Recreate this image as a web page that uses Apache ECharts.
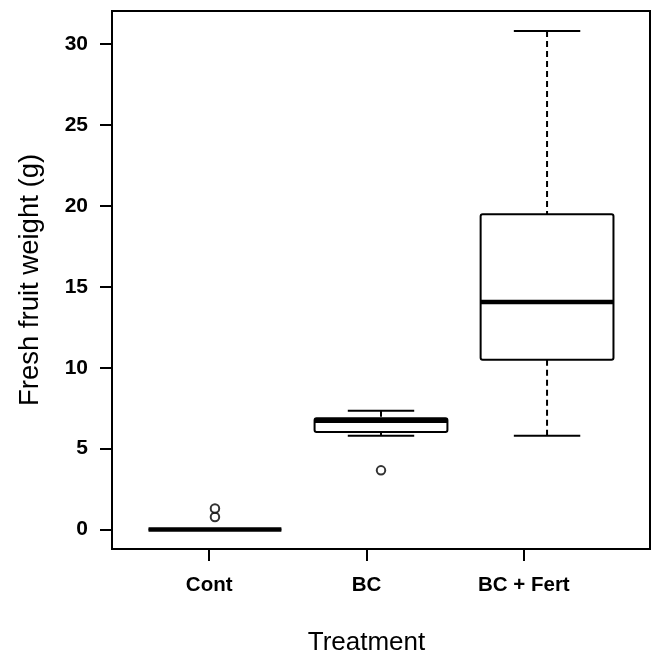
<!DOCTYPE html>
<html>
<head>
<meta charset="utf-8">
<script src="https://cdn.jsdelivr.net/npm/echarts@6/dist/echarts.min.js"></script>
<style>
  html, body { margin: 0; padding: 0; background: #fff; }
  #chart { width: 652px; height: 655px; }
</style>
</head>
<body>
<div id="chart"></div>
<script>
// ---- data ----
const categories = ['Cont', 'BC', 'BC + Fert'];
const whiskerLow = [0, 5.80, 5.80];
const q1 = [0, 6.03, 10.49];
const median = [0, 6.72, 14.06];
const q3 = [0, 6.88, 19.49];
const whiskerHigh = [0, 7.35, 30.82];
const outlierGroup = [0, 0, 1];
const outlierValue = [0.78, 1.30, 3.66];
const yTicks = [0, 5, 10, 15, 20, 25, 30];

const FONT = "'Liberation Sans', Arial, sans-serif";

const boxData = categories.map((c, i) => [i + 1, whiskerLow[i], q1[i], median[i], q3[i], whiskerHigh[i]]);
const outlierData = outlierGroup.map((g, i) => [g + 1, outlierValue[i]]);

function renderBox(params, api) {
  const x = api.value(0);
  const lo = api.value(1), b1 = api.value(2), md = api.value(3), b3 = api.value(4), hi = api.value(5);
  const w = api.size([0.8, 0])[0];
  const pLo = api.coord([x, lo]), pQ1 = api.coord([x, b1]), pMd = api.coord([x, md]);
  const pQ3 = api.coord([x, b3]), pHi = api.coord([x, hi]);
  const cx = pMd[0];
  const solid = { stroke: '#000', lineWidth: 2, fill: null };
  const dashed = { stroke: '#000', lineWidth: 2, lineDash: [6, 4], fill: null };
  return {
    type: 'group',
    children: [
      { type: 'line', shape: { x1: cx, y1: pHi[1], x2: cx, y2: pQ3[1] }, style: dashed },
      { type: 'line', shape: { x1: cx, y1: pLo[1], x2: cx, y2: pQ1[1] }, style: dashed },
      { type: 'line', shape: { x1: cx - w / 4, y1: pHi[1], x2: cx + w / 4, y2: pHi[1] }, style: solid },
      { type: 'line', shape: { x1: cx - w / 4, y1: pLo[1], x2: cx + w / 4, y2: pLo[1] }, style: solid },
      { type: 'rect', shape: { x: cx - w / 2, y: pQ3[1], width: w, height: pQ1[1] - pQ3[1], r: 2 },
        style: { stroke: '#000', lineWidth: 2, fill: '#fff' } },
      { type: 'line', shape: { x1: cx - w / 2, y1: pMd[1], x2: cx + w / 2, y2: pMd[1] },
        style: { stroke: '#000', lineWidth: 4.5 } }
    ]
  };
}

const chart = echarts.init(document.getElementById('chart'), null, { renderer: 'canvas' });
chart.setOption({
  backgroundColor: '#fff',
  animation: false,
  grid: [
    { left: 112, top: 11, width: 538, height: 538, show: true, borderColor: '#000', borderWidth: 2,
      backgroundColor: 'transparent', containLabel: false, outerBoundsMode: 'none' },
    { left: 130.5, top: 11, width: 472, height: 538, show: false, containLabel: false, outerBoundsMode: 'none' }
  ],
  xAxis: [
    { gridIndex: 0, type: 'value', min: 0.38, max: 3.62, show: false, splitLine: { show: false } },
    { gridIndex: 1, type: 'category', data: categories, boundaryGap: true, position: 'bottom',
      axisLine: { show: false, onZero: false },
      axisTick: { show: true, alignWithLabel: true, length: 12, lineStyle: { color: '#000', width: 2 } },
      axisLabel: { color: '#000', fontFamily: FONT, fontWeight: 'bold', fontSize: 20.5, margin: 26, interval: 0 },
      name: 'Treatment', nameLocation: 'middle', nameGap: 81,
      nameTextStyle: { color: '#000', fontFamily: FONT, fontSize: 26 } }
  ],
  yAxis: [
    { gridIndex: 0, type: 'value', min: -1.2, max: 32.05,
      axisLine: { show: false },
      splitLine: { show: false },
      axisTick: { show: true, length: 12, customValues: yTicks, lineStyle: { color: '#000', width: 2 } },
      axisLabel: { color: '#000', fontFamily: FONT, fontWeight: 'bold', fontSize: 21, margin: 24, customValues: yTicks },
      name: 'Fresh fruit weight (g)', nameLocation: 'middle', nameGap: 68,
      nameTextStyle: { color: '#000', fontFamily: FONT, fontSize: 27.5 } },
    { gridIndex: 1, type: 'value', min: 0, max: 1, show: false, splitLine: { show: false } }
  ],
  series: [
    { type: 'custom', xAxisIndex: 0, yAxisIndex: 0, renderItem: renderBox, data: boxData, z: 3,
      encode: { x: 0, y: [1, 2, 3, 4, 5] } },
    { type: 'scatter', xAxisIndex: 0, yAxisIndex: 0, data: outlierData, symbol: 'circle', symbolSize: 8.5,
      itemStyle: { color: '#fff', borderColor: '#000', borderWidth: 2 }, z: 4 }
  ]
});
</script>
</body>
</html>
